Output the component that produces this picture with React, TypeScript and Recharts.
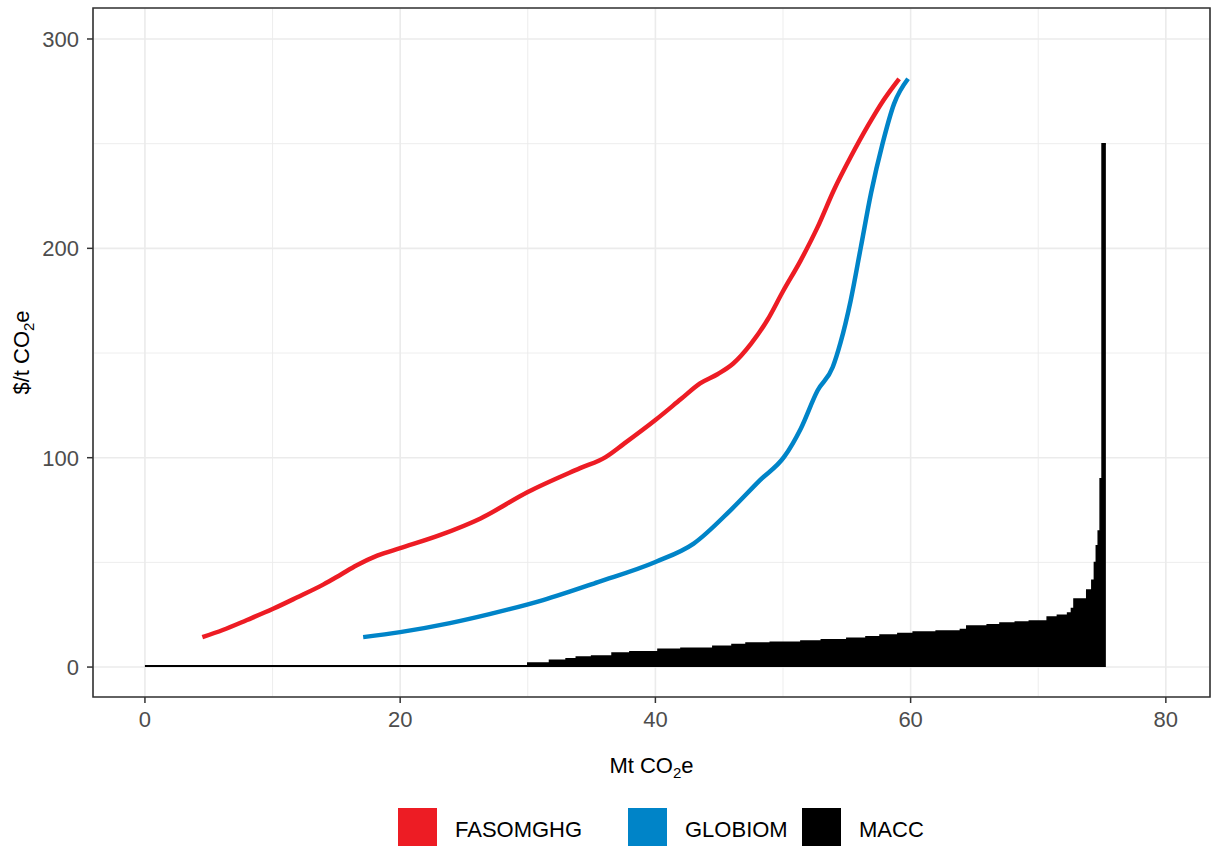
import React from 'react'
import {
  ComposedChart,
  Line,
  Area,
  XAxis,
  YAxis,
  CartesianGrid,
  ReferenceArea,
} from 'recharts'

type Pt = { x: number; y: number }

// FASOMGHG curve (Mt CO2e, $/t CO2e)
const fasomX = [4.5, 6.1, 8, 10, 11.9, 14, 15.3, 16.6, 18.2, 20, 23.1, 26.3, 30, 34.1, 36.1, 37.5, 40, 42, 43.5, 44.9, 46.1, 47.5, 48.8, 50, 51.4, 52.7, 54, 55.3, 56.6, 57.9, 59.1]
const fasomY = [14.3, 17.7, 22.5, 27.7, 33.2, 39.5, 44, 48.6, 53.2, 56.8, 63, 71, 83.6, 95, 100.3, 106.5, 118, 128, 135.5, 140, 145, 154.5, 166, 179.5, 194.4, 210, 228, 243.6, 258, 271, 281]

// GLOBIOM curve
const globiomX = [17.1, 20, 23.9, 27, 31.2, 35.5, 40, 43, 45.9, 48.2, 50.1, 51.4, 52.7, 53.9, 54.5, 55.3, 56.1, 56.9, 57.8, 58.7, 59.8]
const globiomY = [14.3, 16.7, 21, 25.3, 32, 40.6, 50.2, 59, 75, 89.3, 100.5, 114, 132, 143.3, 154.8, 175, 200.6, 226.4, 250, 269, 281]

// MACC steps (value holds until the next x)
const maccX = [0, 30, 31.7, 33, 33.8, 35, 36.6, 38, 40.2, 42, 44.5, 46, 47.1, 49, 51.4, 53, 55, 56.5, 57.6, 59, 60.2, 62, 63.9, 64.4, 66, 67, 68.2, 69.3, 70.7, 71.5, 72.3, 72.6, 72.8, 73.8, 74.2, 74.4, 74.55, 74.7, 74.85, 75.0, 75.3]
const maccY = [0.6, 2, 3.3, 4, 4.8, 5.3, 6.7, 7.3, 8.5, 9, 10, 10.8, 11.5, 11.8, 12.4, 13, 13.8, 14.5, 15.3, 16, 16.7, 17.2, 18, 19.6, 20.2, 21, 21.5, 22, 23.9, 24.7, 25.8, 28, 32.5, 36.8, 41.5, 50, 58, 65, 90, 250, 250]

const xTicks = [0, 20, 40, 60, 80]
const yTicks = [0, 100, 200, 300]
const xMinor = [10, 30, 50, 70]
const yMinor = [50, 150, 250]

const xDomain: [number, number] = [-4.07, 83.46]
const yDomain: [number, number] = [-14.3, 314.8]

const zip = (xs: number[], ys: number[]): Pt[] => xs.map((x, i) => ({ x, y: ys[i] }))
const fasom = zip(fasomX, fasomY)
const globiom = zip(globiomX, globiomY)
const macc = zip(maccX, maccY)

const legendItems = [
  { name: 'FASOMGHG', color: '#ED1C24', left: 398 },
  { name: 'GLOBIOM', color: '#0084C8', left: 628 },
  { name: 'MACC', color: '#000000', left: 802 },
]

const font = '"Liberation Sans", Arial, sans-serif'

const XTitle = (props: any) => {
  const vb = props.viewBox || {}
  const cx = vb.x + vb.width / 2
  return (
    <text x={cx} y={773} textAnchor="middle" fontSize={22} fontFamily={font} fill="#000">
      <tspan>Mt CO</tspan>
      <tspan fontSize={15} dy={5}>2</tspan>
      <tspan dy={-5}>e</tspan>
    </text>
  )
}

const YTitle = (props: any) => {
  const vb = props.viewBox || {}
  const cy = vb.y + vb.height / 2
  return (
    <text
      x={29}
      y={cy}
      transform={`rotate(-90, 29, ${cy})`}
      textAnchor="middle"
      fontSize={22}
      fontFamily={font}
      fill="#000"
    >
      <tspan>$/t CO</tspan>
      <tspan fontSize={15} dy={5}>2</tspan>
      <tspan dy={-5}>e</tspan>
    </text>
  )
}

export default function App() {
  return (
    <div style={{ position: 'absolute', left: 0, top: 0, width: 1212, height: 846, background: '#fff', overflow: 'hidden' }}>
      <ComposedChart width={1212} height={846} margin={{ top: 8, right: 2, left: 0, bottom: 0 }}>
        {/* minor grid, then major grid */}
        <CartesianGrid
          stroke="#EBEBEB"
          strokeWidth={0.9}
          verticalValues={xMinor}
          horizontalValues={yMinor}
        />
        <CartesianGrid stroke="#EBEBEB" strokeWidth={1.6} />
        <XAxis
          type="number"
          dataKey="x"
          domain={xDomain}
          allowDataOverflow
          ticks={xTicks}
          axisLine={false}
          tickLine={{ stroke: '#333', strokeWidth: 1.5 }}
          tickSize={6}
          tickMargin={8}
          height={149}
          tick={{ fontSize: 22, fill: '#4D4D4D', fontFamily: font }}
          label={<XTitle />}
        />
        <YAxis
          type="number"
          domain={yDomain}
          allowDataOverflow
          ticks={yTicks}
          axisLine={false}
          tickLine={{ stroke: '#333', strokeWidth: 1.5 }}
          tickSize={6}
          tickMargin={8}
          width={93}
          tick={{ fontSize: 22, fill: '#4D4D4D', fontFamily: font }}
          label={<YTitle />}
        />
        <Area
          data={macc}
          dataKey="y"
          type="stepAfter"
          baseValue={0}
          stroke="#000"
          strokeWidth={1.5}
          fill="#000"
          fillOpacity={1}
          isAnimationActive={false}
        />
        <Line
          data={fasom}
          dataKey="y"
          type="monotone"
          stroke="#ED1C24"
          strokeWidth={4.5}
          dot={false}
          isAnimationActive={false}
        />
        <Line
          data={globiom}
          dataKey="y"
          type="monotone"
          stroke="#0084C8"
          strokeWidth={4.5}
          dot={false}
          isAnimationActive={false}
        />
        <ReferenceArea
          x1={xDomain[0]}
          x2={xDomain[1]}
          y1={yDomain[0]}
          y2={yDomain[1]}
          fill="none"
          stroke="#333"
          strokeWidth={1.6}
          ifOverflow="visible"
        />
      </ComposedChart>
      {legendItems.map((it) => (
        <div key={it.name}>
          <div
            style={{ position: 'absolute', left: it.left, top: 808, width: 39, height: 38, background: it.color }}
          />
          <div
            style={{
              position: 'absolute',
              left: it.left + 57,
              top: 816,
              fontSize: 22,
              lineHeight: '28px',
              fontFamily: font,
              color: '#000',
            }}
          >
            {it.name}
          </div>
        </div>
      ))}
    </div>
  )
}
